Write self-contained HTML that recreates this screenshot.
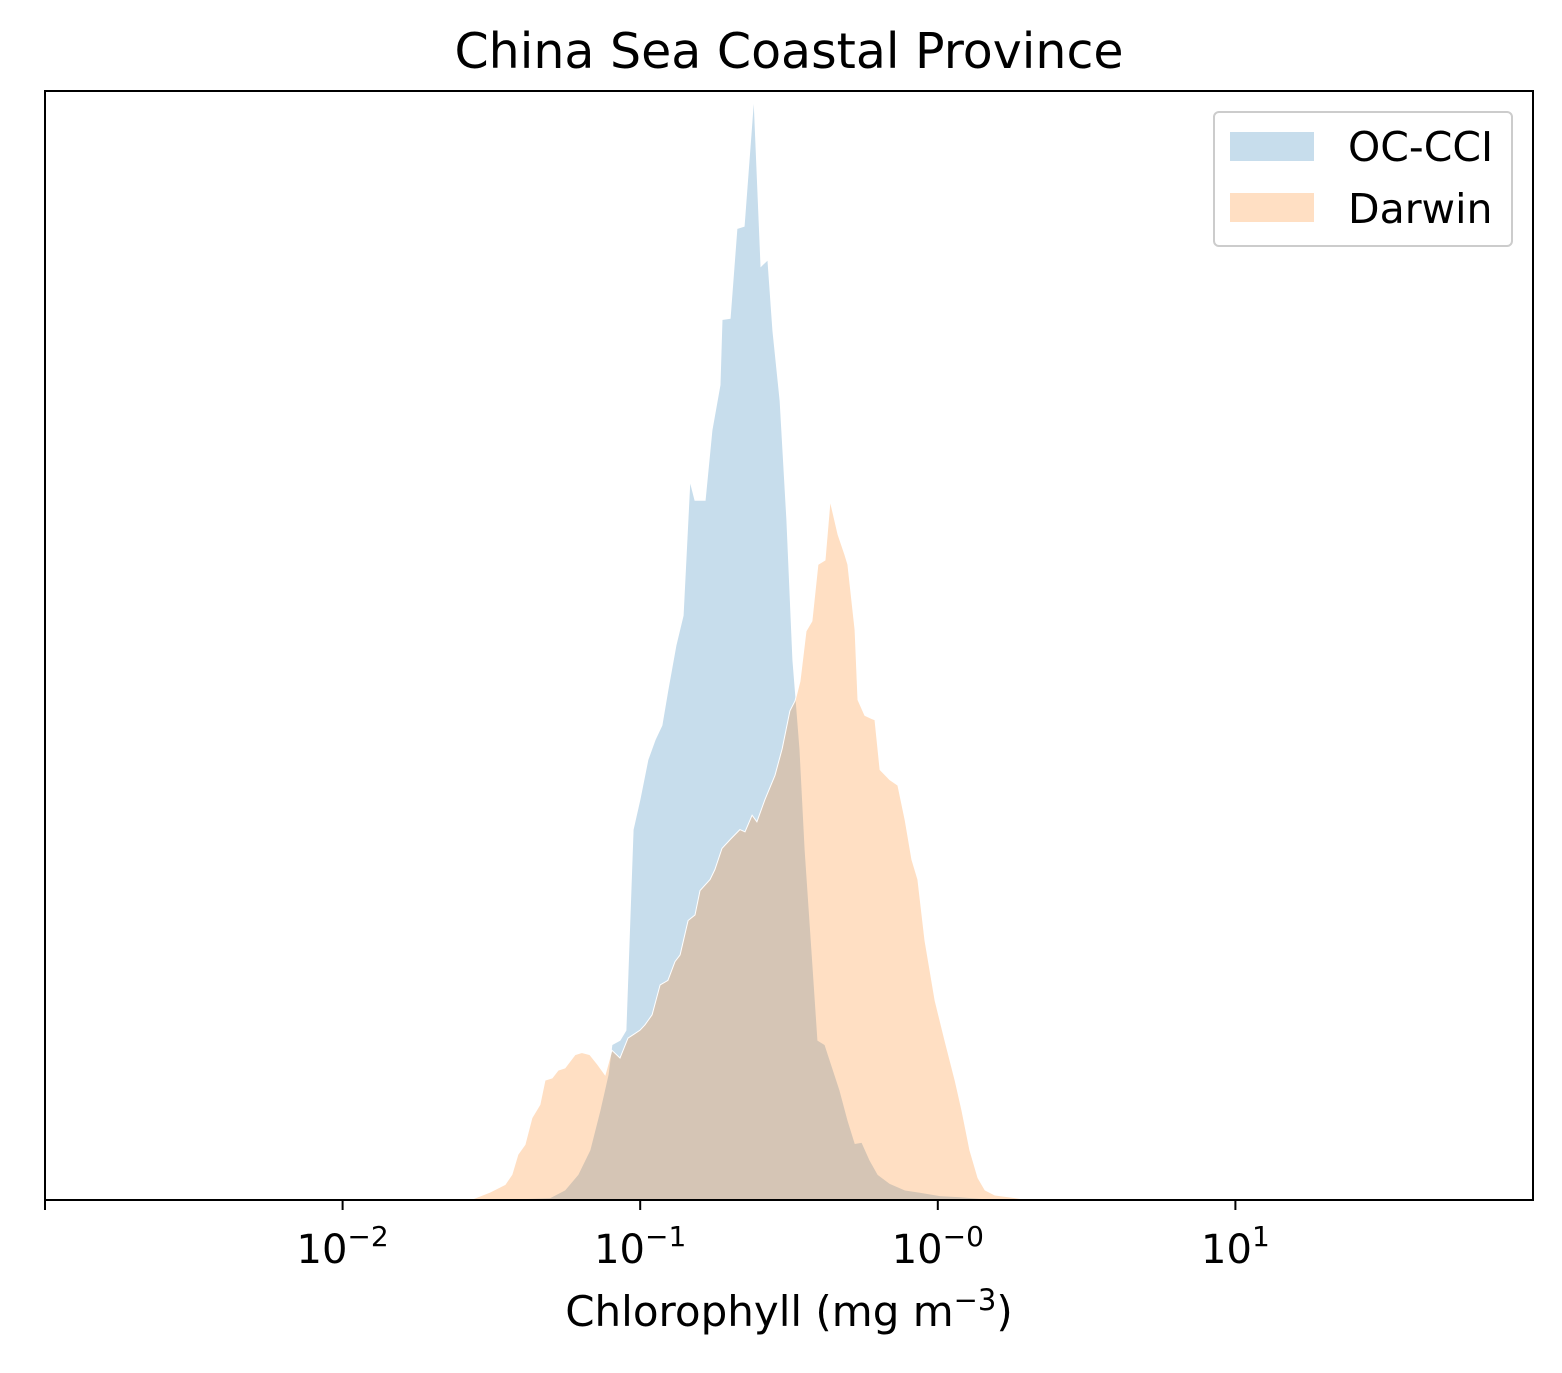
<!DOCTYPE html>
<html><head><meta charset="utf-8"><style>
body{margin:0;background:#fff;}
svg text{font-family:"DejaVu Sans","Liberation Sans",sans-serif;fill:#000;}
</style></head><body>
<svg id="chart" width="1562" height="1368" xmlns="http://www.w3.org/2000/svg">
<rect width="1562" height="1368" fill="#fff"/>
<text x="789" y="68" font-size="49" text-anchor="middle">China Sea Coastal Province</text>
<g id="series"></g>
<rect x="45" y="91" width="1488" height="1109" fill="none" stroke="#000" stroke-width="2"/>
<g id="ticks"></g>
<text x="789" y="1326" font-size="42" text-anchor="middle">Chlorophyll  (mg m<tspan dy="-16" font-size="29">−3</tspan><tspan dy="16">)</tspan></text>
<g>
<rect x="1214" y="112" width="298" height="134" rx="5" fill="#fff" stroke="#ccc" stroke-width="2"/>
<rect x="1230" y="132" width="84" height="29" fill="#1f77b4" fill-opacity="0.25"/>
<text x="1348" y="161" font-size="41">OC-CCI</text>
<rect x="1230" y="193" width="84" height="29" fill="#ff7f0e" fill-opacity="0.25"/>
<text x="1348" y="223" font-size="41">Darwin</text>
</g>
</svg>
<script>
const occciLogChl=[-1.538,-1.303,-1.253,-1.209,-1.169,-1.135,-1.108,-1.095,-1.068,-1.048,-1.024,-1.001,-0.974,-0.950,-0.927,-0.907,-0.880,-0.856,-0.833,-0.816,-0.782,-0.759,-0.732,-0.725,-0.698,-0.675,-0.651,-0.618,-0.594,-0.571,-0.554,-0.530,-0.507,-0.487,-0.476,-0.463,-0.446,-0.423,-0.403,-0.379,-0.362,-0.329,-0.302,-0.278,-0.255,-0.228,-0.201,-0.161,-0.110,-0.060,0.007,0.075,0.209];
const occciDensity=[0,0.2,0.9,2.3,4.5,8.1,11.3,14.0,14.4,15.3,33.4,36.1,39.7,41.5,42.8,46.0,50.0,52.7,64.9,63.1,63.1,69.4,73.5,79.4,79.5,87.6,87.8,99.6,84.2,84.8,78.4,72.1,61.3,48.7,45.1,40.6,31.6,22.5,14.4,14.0,12.6,9.9,7.2,5.1,5.2,3.6,2.3,1.5,0.9,0.7,0.4,0.3,0];
const darwinLogChl=[-1.572,-1.505,-1.454,-1.431,-1.411,-1.387,-1.364,-1.337,-1.320,-1.296,-1.276,-1.253,-1.219,-1.196,-1.169,-1.142,-1.118,-1.095,-1.068,-1.041,-1.001,-0.984,-0.960,-0.933,-0.907,-0.883,-0.866,-0.839,-0.816,-0.799,-0.765,-0.749,-0.725,-0.698,-0.665,-0.648,-0.624,-0.608,-0.581,-0.547,-0.523,-0.497,-0.480,-0.463,-0.443,-0.423,-0.403,-0.379,-0.362,-0.335,-0.312,-0.302,-0.278,-0.268,-0.245,-0.221,-0.211,-0.194,-0.161,-0.134,-0.110,-0.087,-0.067,-0.043,-0.009,0.024,0.058,0.081,0.108,0.135,0.159,0.192,0.243,0.310];
const darwinDensity=[0,0.7,1.4,2.3,4.1,5.0,7.4,8.6,10.8,11.0,11.7,11.9,13.1,13.3,13.1,12.2,11.3,13.5,12.8,14.6,15.3,15.8,16.7,19.4,19.8,21.5,22.1,25.2,25.7,27.9,28.9,29.8,31.7,32.5,33.4,33.2,34.7,34.1,36.1,38.3,40.7,44.1,45.0,46.8,51.3,52.2,57.3,57.7,63.1,60.0,58.2,57.3,51.4,45.1,43.7,43.4,43.3,38.8,37.9,37.4,34.3,30.7,28.9,23.4,18.0,14.4,10.8,8.1,4.5,2.0,0.9,0.45,0.27,0];
const tickExponents=[-2,-1,0,1];
const tickLabels=["−2","−1","−0","1"];

const L=45,R=1533,T=91,B=1200,xMin=-3,xMax=2,yMax=100;
const sx=v=>L+(v-xMin)/(xMax-xMin)*(R-L);
const sy=v=>B-v/yMax*(B-T);
const NS="http://www.w3.org/2000/svg";
const g=document.getElementById('series');
function area(xs,ys,color,name){
  let d="M"+sx(xs[0])+","+B;
  for(let i=0;i<xs.length;i++) d+=" L"+sx(xs[i]).toFixed(1)+","+sy(ys[i]).toFixed(1);
  d+=" L"+sx(xs[xs.length-1])+","+B+" Z";
  const p=document.createElementNS(NS,'path');
  p.setAttribute('d',d);p.setAttribute('fill',color);p.setAttribute('fill-opacity','0.25');
  p.setAttribute('stroke','#fff');p.setAttribute('stroke-width','1');
  
  
  g.appendChild(p);
}
area(occciLogChl,occciDensity,'#1f77b4','occci-area');
area(darwinLogChl,darwinDensity,'#ff7f0e','darwin-area');
const tg=document.getElementById('ticks');
const t0=document.createElementNS(NS,'line');
t0.setAttribute('x1',L);t0.setAttribute('x2',L);t0.setAttribute('y1',B);t0.setAttribute('y2',B+10);t0.setAttribute('stroke','#000');t0.setAttribute('stroke-width','2');


tg.appendChild(t0);
tickExponents.forEach((e,i)=>{
  const x=sx(e);
  const ln=document.createElementNS(NS,'line');
  ln.setAttribute('x1',x);ln.setAttribute('x2',x);ln.setAttribute('y1',B);ln.setAttribute('y2',B+10);
  ln.setAttribute('stroke','#000');ln.setAttribute('stroke-width','2');
  
  
  tg.appendChild(ln);
  const t=document.createElementNS(NS,'text');
  t.setAttribute('x',x);t.setAttribute('y',1263);t.setAttribute('font-size','40');t.setAttribute('text-anchor','middle');
  t.innerHTML='10<tspan dy="-17" font-size="28">'+tickLabels[i]+'</tspan>';
  
  
  tg.appendChild(t);
});
</script>
</body></html>
